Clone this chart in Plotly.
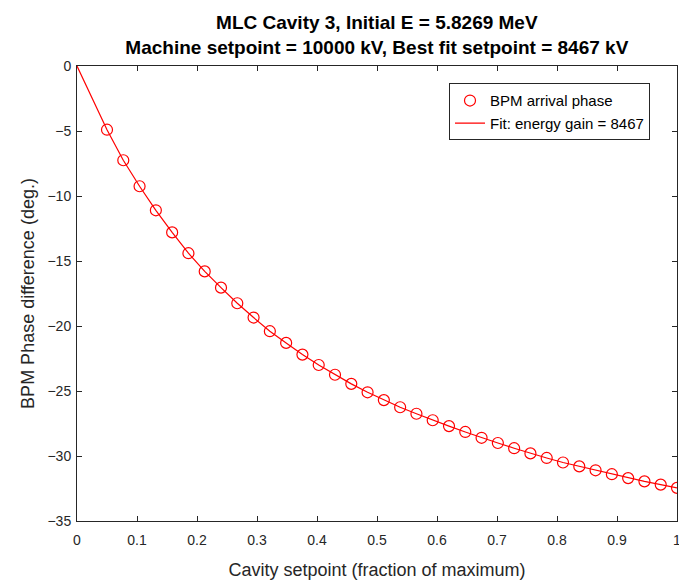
import plotly.graph_objects as go

x_points = [0.05 + i * 0.95 / 35 for i in range(36)]
phase = [-4.9, -7.25, -9.25, -11.1, -12.8, -14.4, -15.8, -17.05, -18.25, -19.35,
         -20.4, -21.3, -22.2, -23.0, -23.75, -24.45, -25.1, -25.7, -26.25, -26.75,
         -27.25, -27.7, -28.15, -28.6, -29.0, -29.4, -29.8, -30.15, -30.5, -30.8,
         -31.1, -31.4, -31.7, -31.95, -32.2, -32.45]
fit_x = [0.0] + x_points
fit_y = [0.0] + phase
x_ticks = [0, 0.1, 0.2, 0.3, 0.4, 0.5, 0.6, 0.7, 0.8, 0.9, 1]
x_tick_text = ["0", "0.1", "0.2", "0.3", "0.4", "0.5", "0.6", "0.7", "0.8", "0.9", "1"]
y_ticks = [0, -5, -10, -15, -20, -25, -30, -35]

FONT = "Liberation Sans, Arial, Helvetica, sans-serif"
AX = "#262626"

fig = go.Figure()
fig.add_trace(go.Scatter(
    x=x_points, y=phase, mode="markers", name="BPM arrival phase",
    marker=dict(symbol="circle-open", size=11, color="#ff0000", line=dict(width=1.2, color="#ff0000")),
))
fig.add_trace(go.Scatter(
    x=fit_x, y=fit_y, mode="lines", name="Fit: energy gain = 8467",
    line=dict(color="#ff0000", width=1.2),
))

fig.update_layout(
    width=679, height=580,
    margin=dict(l=77, r=2, t=66, b=59),
    paper_bgcolor="white", plot_bgcolor="white",
    font=dict(family=FONT, color=AX, size=14),
    title=dict(
        text="<b>MLC Cavity 3, Initial E = 5.8269 MeV</b><br><b>Machine setpoint = 10000 kV, Best fit setpoint = 8467 kV</b>",
        x=0.555, xanchor="center", y=0.95, yanchor="top", yref="container",
        font=dict(size=19, color="black", family=FONT),
    ),
    showlegend=True,
    legend=dict(
        x=0.955, xanchor="right", y=0.962, yanchor="top",
        bordercolor=AX, borderwidth=1, bgcolor="white",
        font=dict(size=15, color="black", family=FONT),
        tracegroupgap=0, itemwidth=30,
    ),
)
fig.update_xaxes(
    range=[0, 1], tickvals=x_ticks, ticktext=x_tick_text,
    ticks="inside", ticklen=5, tickcolor=AX, showline=True, linecolor=AX, linewidth=1,
    mirror="ticks", showgrid=False, zeroline=False, ticklabeloverflow="allow",
    ticklabelstandoff=6, automargin=False,
    title=dict(text="Cavity setpoint (fraction of maximum)", font=dict(size=18, color=AX), standoff=16),
    tickfont=dict(size=14, color=AX),
)
fig.update_yaxes(
    range=[-35, 0], tickvals=y_ticks,
    ticks="inside", ticklen=5, tickcolor=AX, showline=True, linecolor=AX, linewidth=1,
    mirror="ticks", showgrid=False, zeroline=False, ticklabeloverflow="allow",
    ticklabelstandoff=2, automargin=False,
    title=dict(text="BPM Phase difference (deg.)", font=dict(size=18, color=AX), standoff=8),
    tickfont=dict(size=14, color=AX),
)

fig.write_html("out.html")
